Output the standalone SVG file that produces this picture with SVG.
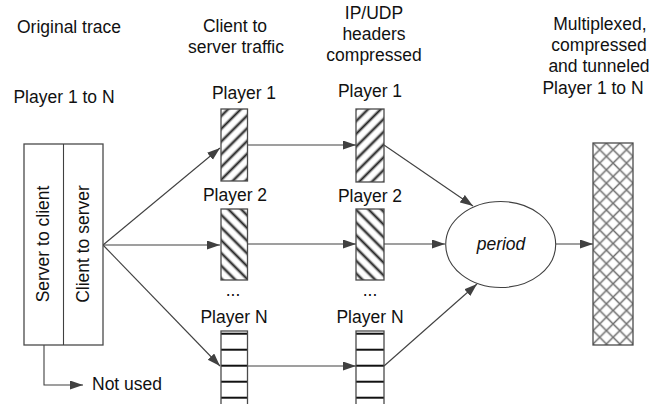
<svg xmlns="http://www.w3.org/2000/svg" width="656" height="404" viewBox="0 0 656 404">
  <style>
    text { font-family: "Liberation Sans", Arial, sans-serif; font-size: 17.5px; fill: #111; }
    .mid { text-anchor: middle; }
    .conn { stroke: #404040; stroke-width: 1.1; fill: none; marker-end: url(#arrow); }
    .plain { stroke: #404040; stroke-width: 1.1; fill: none; }
    .box { stroke: #4a4a4a; stroke-width: 1.3; }
  </style>
  <defs>
    <marker id="arrow" markerUnits="userSpaceOnUse" markerWidth="14" markerHeight="10" refX="13" refY="4.5" orient="auto">
      <path d="M0,0 L13,4.5 L0,9 z" fill="#404040"/>
    </marker>
    <!-- rising diagonal stripes -->
    <pattern id="hatchUp" patternUnits="userSpaceOnUse" width="9" height="9" patternTransform="rotate(45)">
      <rect width="9" height="9" fill="#fff"/>
      <line x1="4.5" y1="0" x2="4.5" y2="9" stroke="#aaa" stroke-width="3.6"/>
      <line x1="4.5" y1="0" x2="4.5" y2="9" stroke="#222" stroke-width="1.6"/>
    </pattern>
    <!-- falling diagonal stripes -->
    <pattern id="hatchDown" patternUnits="userSpaceOnUse" width="9" height="9" patternTransform="rotate(-45)">
      <rect width="9" height="9" fill="#fff"/>
      <line x1="4.5" y1="0" x2="4.5" y2="9" stroke="#aaa" stroke-width="3.6"/>
      <line x1="4.5" y1="0" x2="4.5" y2="9" stroke="#222" stroke-width="1.6"/>
    </pattern>
    <!-- horizontal bands -->
    <pattern id="bands" patternUnits="userSpaceOnUse" x="0" y="333" width="10" height="16">
      <rect width="10" height="16" fill="#fff"/>
      <rect y="-1" width="10" height="3" fill="#bbb"/>
      <rect y="15" width="10" height="3" fill="#bbb"/>
      <rect y="0" width="10" height="1.6" fill="#111"/>
    </pattern>
    <!-- diamond lattice -->
    <pattern id="lattice" patternUnits="userSpaceOnUse" x="593" y="143" width="13.4" height="13.4">
      <rect width="13.4" height="13.4" fill="#fff"/>
      <path d="M0,0 L13.4,13.4 M13.4,0 L0,13.4" stroke="#cfcfcf" stroke-width="2.4"/>
      <path d="M0,0 L13.4,13.4 M13.4,0 L0,13.4" stroke="#6a6a6a" stroke-width="1.1"/>
    </pattern>
  </defs>

  <rect width="656" height="404" fill="#fff"/>

  <!-- column headings -->
  <g id="headings">
    <text x="69" y="33" class="mid">Original trace</text>
    <text x="235" y="32" class="mid">Client to</text>
    <text x="236" y="53" class="mid">server traffic</text>
    <text x="374" y="19" class="mid">IP/UDP</text>
    <text x="374" y="40" class="mid">headers</text>
    <text x="374" y="61" class="mid">compressed</text>
    <text x="600" y="30" class="mid">Multiplexed,</text>
    <text x="599" y="51" class="mid">compressed</text>
    <text x="599" y="72" class="mid">and tunneled</text>
  </g>

  <!-- connectors -->
  <g id="connectors">
    <line class="conn" x1="103" y1="245" x2="220" y2="148"/>
    <line class="conn" x1="103" y1="245" x2="220" y2="245"/>
    <line class="conn" x1="103" y1="245" x2="220" y2="366"/>
    <polyline class="conn" points="44,345 44,385 83,385"/>
    <line class="conn" x1="248" y1="145" x2="356" y2="145"/>
    <line class="conn" x1="248" y1="244" x2="356" y2="244"/>
    <line class="conn" x1="248" y1="366" x2="356" y2="366"/>
    <line class="conn" x1="384" y1="145" x2="473" y2="206"/>
    <line class="conn" x1="384" y1="244" x2="445" y2="244"/>
    <line class="conn" x1="384" y1="366" x2="477" y2="284"/>
    <line class="conn" x1="556" y1="244" x2="593" y2="244"/>
  </g>

  <!-- original trace -->
  <g id="trace">
    <text x="64" y="103" class="mid">Player 1 to N</text>
    <rect class="box" x="24" y="144" width="79" height="201" fill="#fff"/>
    <line class="plain" x1="63.5" y1="144" x2="63.5" y2="345"/>
    <text class="mid" transform="translate(49,244) rotate(-90)">Server to client</text>
    <text class="mid" transform="translate(89,244) rotate(-90)">Client to server</text>
  </g>

  <g id="not-used">
    <text x="92" y="390">Not used</text>
  </g>

  <!-- client to server flows -->
  <g id="c-player1">
    <text x="244" y="99" class="mid">Player 1</text>
    <rect class="box" x="221" y="109" width="26.5" height="72" fill="url(#hatchUp)"/>
  </g>
  <g id="c-player2">
    <text x="235" y="201" class="mid">Player 2</text>
    <rect class="box" x="221" y="209" width="26.5" height="71" fill="url(#hatchDown)"/>
  </g>
  <g id="c-dots">
    <text x="233" y="296" class="mid">...</text>
  </g>
  <g id="c-playerN">
    <text x="234" y="323" class="mid">Player N</text>
    <rect class="box" x="221" y="331" width="26.5" height="80" fill="url(#bands)" stroke="#888"/>
  </g>

  <!-- header-compressed flows -->
  <g id="h-player1">
    <text x="370" y="97" class="mid">Player 1</text>
    <rect class="box" x="356" y="109" width="28" height="73" fill="url(#hatchUp)"/>
  </g>
  <g id="h-player2">
    <text x="370" y="202" class="mid">Player 2</text>
    <rect class="box" x="356" y="209" width="28" height="71" fill="url(#hatchDown)"/>
  </g>
  <g id="h-dots">
    <text x="370" y="296" class="mid">...</text>
  </g>
  <g id="h-playerN">
    <text x="370" y="323" class="mid">Player N</text>
    <rect class="box" x="356" y="331" width="28" height="80" fill="url(#bands)" stroke="#888"/>
  </g>

  <!-- multiplexing period -->
  <g id="period">
    <ellipse cx="500.7" cy="244.5" rx="55" ry="43" fill="#fff" stroke="#404040" stroke-width="1.1"/>
    <text x="501" y="250" class="mid" font-style="italic">period</text>
  </g>

  <!-- multiplexed output -->
  <g id="tunnel">
    <text x="593" y="94" class="mid">Player 1 to N</text>
    <rect class="box" x="593" y="143" width="40" height="202" fill="url(#lattice)"/>
  </g>
</svg>
